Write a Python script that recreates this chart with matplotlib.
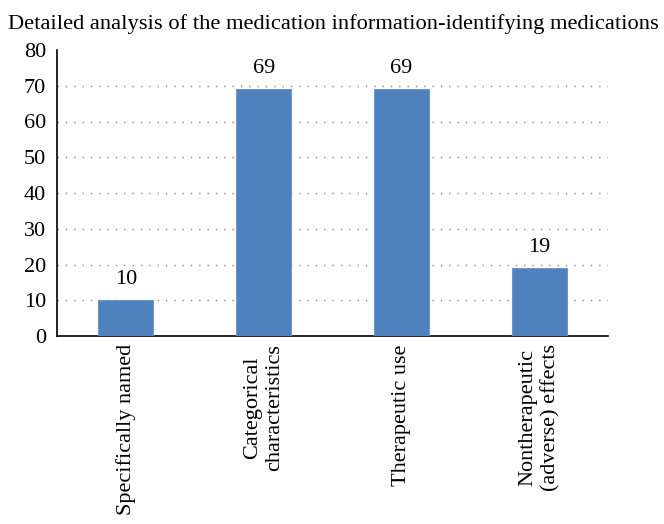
import matplotlib.pyplot as plt

categories = ["Specifically named", "Categorical\ncharacteristics",
              "Therapeutic use", "Nontherapeutic\n(adverse) effects"]
values = [10, 69, 69, 19]
yticks = [0, 10, 20, 30, 40, 50, 60, 70, 80]

plt.rcParams['font.family'] = ['Liberation Serif', 'DejaVu Serif']

fig = plt.figure(figsize=(6.64, 5.24), dpi=100)
ax = fig.add_axes([57 / 664, 1 - 336 / 524, 551 / 664, 286 / 524])

x = range(len(categories))
bars = ax.bar(x, values, width=0.4, color="#4F81BD", edgecolor="#6E98CC", linewidth=0.8, zorder=3)
for b, v in zip(bars, values):
    ax.annotate(str(v), (b.get_x() + b.get_width() / 2, v), xytext=(0, 8), textcoords="offset points",
                ha="center", va="bottom", fontsize=16)

ax.set_xlim(-0.5, len(categories) - 0.5)
ax.set_ylim(0, 80)
ax.set_yticks(yticks)
ax.set_yticklabels([str(t) for t in yticks], fontsize=16)
ax.set_xticks(list(x))
ax.set_xticklabels(categories, rotation=90, fontsize=16, va="top", ha="center",
                   multialignment="center", linespacing=1.25)
ax.tick_params(axis="both", length=0, pad=6)
ax.tick_params(axis="y", pad=8)

for t in yticks[1:-1]:
    ax.axhline(t, color="#888888", linestyle=(0, (1, 5)), linewidth=1, zorder=1)

for s in ["top", "right"]:
    ax.spines[s].set_visible(False)
ax.spines["left"].set_color("black")
ax.spines["bottom"].set_color("black")
ax.spines["left"].set_linewidth(1.2)
ax.spines["bottom"].set_linewidth(1.2)

fig.text(8 / 664, 1 - 29 / 524, "Detailed analysis of the medication information-identifying medications",
         fontsize=16.2, ha="left", va="baseline")

fig.savefig("out.png", dpi=100)
